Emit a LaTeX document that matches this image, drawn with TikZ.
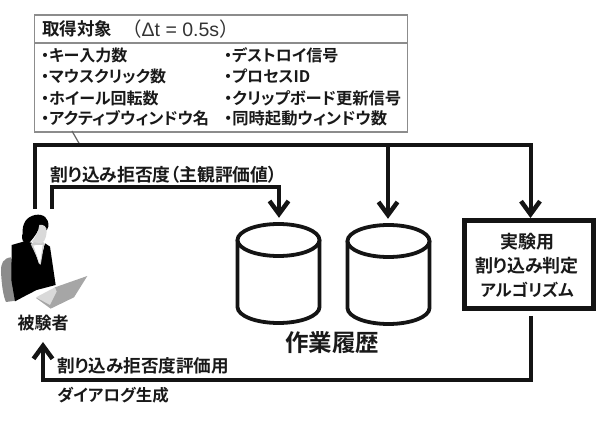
\documentclass[tikz,border=0pt]{standalone}
\usepackage{fontspec}
\usetikzlibrary{arrows.meta}
\newfontfamily\jpfont[RawFeature=+palt]{Noto Sans CJK JP Bold}
\newfontfamily\jpplain{Noto Sans CJK JP}
\newfontfamily\latinfont{Liberation Sans}
\newcommand{\jpsize}[1]{\jpfont\fontsize{#1}{#1}\selectfont}
\tikzset{
  label text/.style={font=\jpsize{16},inner sep=0pt,text=black!90},
  item/.style={label text,anchor=west},
  flow/.style={line width=4pt,draw=black!92},
  flow tip/.style={flow,-{Straight Barb[length=13pt,width=19pt,line width=4.5pt]}},
  store/.style={minimum width=85pt,minimum height=107pt,inner sep=0pt},
  drum/.style={draw=black!92,line width=3.8pt,fill=white},
  panel/.style={draw=black!45,line width=1.8pt,fill=white}
}
% Drum outline drawn around the centre of a named store node
\newcommand{\drumat}[1]{%
  \begin{scope}[shift={(#1.center)}]
    \draw[drum] (-41,-31.5) -- (-41,35.5) arc[start angle=180,end angle=0,x radius=41,y radius=16] -- (41,-31.5);
    \draw[drum] (0,-31.5) ellipse[x radius=41,y radius=16];
  \end{scope}}
\begin{document}
\begin{tikzpicture}[x=1pt,y=-1pt]
\useasboundingbox (0,0) rectangle (611,427);

% Acquisition list panel
\node[panel,minimum width=373pt,minimum height=28pt,anchor=north west,inner sep=0pt] (head) at (33.5,14) {};
\node[panel,minimum width=373pt,minimum height=89pt,anchor=north west,inner sep=0pt] (list) at (33.5,42) {};
\node[item,font=\jpsize{17.5}] (title) at (42,29) {取得対象};
\node[anchor=west,inner sep=0pt,font=\latinfont\fontsize{19.5}{20}\selectfont,text=black!80] (interval) at (122,29) {{\jpplain （}Δt = 0.5s{\jpplain ）}};

\node[item] (a1) at (41,55) {・キー入力数};
\node[item] (a2) at (41,76) {・マウスクリック数};
\node[item] (a3) at (41,98) {・ホイール回転数};
\node[item,font=\jpsize{16.2}] (a4) at (41,118) {・アクティブウィンドウ名};
\node[item] (b1) at (224,55) {・デストロイ信号};
\node[item] (b2) at (224,76) {・プロセスID};
\node[item,font=\jpsize{16.3}] (b3) at (224,98) {・クリップボード更新信号};
\node[item,font=\jpsize{16.3}] (b4) at (224,118) {・同時起動ウィンドウ数};

% Routing points of the connectors
\coordinate (leadtop) at (72,131);
\coordinate (leadend) at (80,145);
\coordinate (busstart) at (35,209);
\coordinate (busleft) at (35,145);
\coordinate (busright) at (530.5,145);
\coordinate (busmid) at (388,145);
\coordinate (evalstart) at (52,209);
\coordinate (evalleft) at (52,187);
\coordinate (evalright) at (279,187);
\coordinate (feedstart) at (531,316);
\coordinate (feedcorner) at (531,380);
\coordinate (feedleft) at (43,380);

% History stores and the decision box
\node[store] (db1) at (278.5,271.5) {};
\node[store] (db2) at (388.5,272.5) {};
\drumat{db1}
\drumat{db2}
\node[draw=black!92,line width=5pt,fill=white,minimum width=129pt,minimum height=88pt,inner sep=0pt] (algo) at (529,264.5) {};
\node[label text,font=\jpsize{18}] (algo1) at (527,242) {実験用};
\node[label text,font=\jpsize{18}] (algo2) at (527,266) {割り込み判定};
\node[label text,font=\jpsize{16.6}] (algo3) at (527,290) {アルゴリズム};
\node[label text,font=\jpsize{23.5}] (history) at (332,343) {作業履歴};

% Connectors
\draw[black!60,line width=1.2pt] (leadtop) -- (leadend);
\draw[flow tip] (busstart) -- (busleft) -- (busright) -- (algo.north -| busright);
\draw[flow tip] (busmid) -- (db2.north -| busmid);
\draw[flow tip] (evalstart) -- (evalleft) -- (evalright) -- (db1.north -| evalright);
\draw[flow tip] (feedstart) -- (feedcorner) -- (feedleft) -- (43,342);

% Connector labels
\node[item,font=\jpsize{17.8}] (rating) at (50,175) {割り込み拒否度（主観評価値）};
\node[item,font=\jpsize{17.6}] (dialog1) at (57,366) {割り込み拒否度評価用};
\node[item,font=\jpsize{16.5}] (dialog2) at (57,395) {ダイアログ生成};
\node[label text,font=\jpsize{17}] (subject) at (43,323) {被験者};

% Seated figure with laptop
\begin{scope}[shift={(0,200)},x=0.3333pt,y=-0.3333pt]
  \fill[black!45] (32,172) .. controls (10,175) and (2,190) .. (3,215) .. controls (5,255) and (10,290) .. (18,306) -- (48,302) -- (48,200) -- cycle;
  \fill[black] (35,135) -- (70,125) -- (95,128) -- (118,195) -- (135,130) -- (150,140) -- (167,255) -- (110,270) -- (75,288) -- (45,304) -- (34,240) -- cycle;
  \fill[black!20] (92,132) -- (122,195) -- (133,130) -- (120,115) -- cycle;
  \fill[white] (100,136) -- (120,192) -- (128,135) -- cycle;
  \fill[black] (105,45) .. controls (130,40) and (148,55) .. (145,80) .. controls (143,95) and (125,100) .. (115,90) .. controls (108,105) and (95,120) .. (85,132) .. controls (70,130) and (62,120) .. (68,100) .. controls (66,70) and (80,50) .. (105,45) -- cycle;
  \fill[black!15] (118,75) .. controls (130,72) and (142,80) .. (140,95) .. controls (138,120) and (130,128) .. (122,130) -- (95,125) .. controls (108,110) and (115,95) .. (118,75) -- cycle;
  \fill[black!35] (165,262) -- (262,228) -- (222,292) -- (152,326) -- (108,294) -- (158,272) -- cycle;
  \fill[black!15] (108,292) -- (165,262) -- (170,275) -- (150,315) -- cycle;
\end{scope}
\end{tikzpicture}
\end{document}
